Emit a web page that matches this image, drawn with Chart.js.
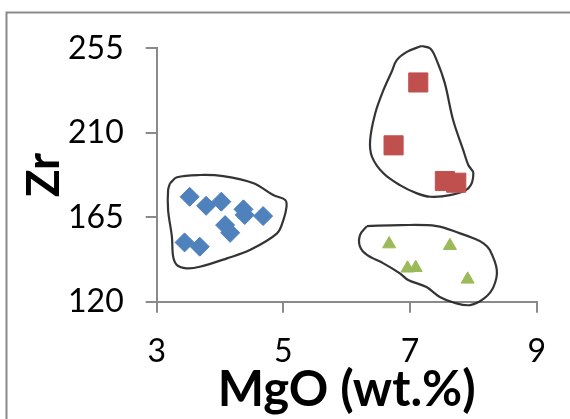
<!DOCTYPE html>
<html>
<head>
<meta charset="utf-8">
<script src="https://cdn.jsdelivr.net/npm/chart.js@4"></script>
<style>
html,body{margin:0;padding:0;background:#fff;}
#wrap{width:570px;height:419px;position:relative;}
</style>
</head>
<body>
<div id="wrap"><canvas id="c" width="570" height="419"></canvas></div>
<script>
// ---- data (MgO wt.%, Zr) ----
const xTicks = [3, 5, 7, 9];
const yTicks = [120, 165, 210, 255];

const blueMgO = [3.52, 3.78, 4.02, 4.37, 4.39, 4.68, 4.08, 4.16, 3.44, 3.68];
const blueZr  = [175.9, 171.1, 173.3, 169.2, 166.2, 165.6, 160.8, 156.7, 151.6, 149.3];

const redMgO = [7.13, 6.74, 7.55, 7.73];
const redZr  = [236.8, 203.3, 184.3, 183.4];

const greenMgO = [6.67, 7.63, 6.96, 7.09, 7.91];
const greenZr  = [150.7, 149.8, 137.8, 138.1, 131.9];

// hand-drawn enclosing outlines (value coordinates)
const blueOutlineMgO = [3.21, 3.32, 3.68, 4.05, 4.53, 4.84, 5.03, 5.05, 5.00, 4.90, 4.47, 4.11, 3.68, 3.47, 3.32, 3.26, 3.24, 3.18, 3.18, 3.21];
const blueOutlineZr  = [183.1, 186.3, 187.5, 186.9, 183.1, 176.8, 174.2, 170.6, 163.5, 156.4, 147.5, 143.1, 138.6, 137.8, 139.5, 144.0, 154.6, 168.8, 179.5, 183.1];

const redOutlineMgO = [7.18, 6.95, 6.79, 6.71, 6.58, 6.45, 6.37, 6.40, 6.58, 6.84, 7.11, 7.32, 7.63, 7.92, 8.00, 7.92, 7.84, 7.68, 7.55, 7.42, 7.32, 7.18];
const redOutlineZr  = [256.2, 253.1, 248.7, 242.5, 232.7, 220.3, 206.1, 197.2, 188.4, 182.1, 177.7, 175.9, 176.8, 180.4, 188.4, 192.8, 200.8, 216.8, 236.3, 248.7, 254.9, 256.2];

const greenOutlineMgO = [6.32, 6.84, 7.42, 7.79, 8.00, 8.16, 8.26, 8.37, 8.32, 8.18, 7.95, 7.71, 7.47, 7.26, 6.97, 6.84, 6.58, 6.32, 6.21, 6.21, 6.32];
const greenOutlineZr  = [160.3, 160.8, 160.3, 156.4, 153.8, 151.1, 147.5, 136.9, 128.0, 122.0, 118.2, 119.3, 122.5, 127.8, 131.6, 135.1, 140.4, 144.9, 149.3, 155.5, 160.3];

// ---- helpers ----
const pts = (xs, ys) => xs.map((x, i) => ({x: x, y: ys[i]}));
const AXIS = '#8a8a8a';
const FONT = 'Lato, "Open Sans", "Liberation Sans", sans-serif';

function outline(xs, ys) {
  return {
    data: pts(xs, ys),
    showLine: true,
    pointRadius: 0,
    borderColor: 'rgba(30,30,30,0.9)',
    borderWidth: 2.2,
    backgroundColor: 'transparent',
    fill: false,
    tension: 0.35,
    clip: false,
    order: 2
  };
}

const frame = {
  id: 'frame',
  beforeDraw(chart) {
    const ctx = chart.ctx;
    ctx.save();
    ctx.fillStyle = '#fff';
    ctx.fillRect(0, 0, chart.width, chart.height);
    ctx.strokeStyle = AXIS;
    ctx.lineWidth = 2;
    ctx.strokeRect(6.5, 12.5, 700, 500);
    ctx.restore();
  }
};

new Chart(document.getElementById('c'), {
  type: 'scatter',
  data: {
    datasets: [
      outline(blueOutlineMgO, blueOutlineZr),
      outline(redOutlineMgO, redOutlineZr),
      outline(greenOutlineMgO, greenOutlineZr),
      {
        data: pts(blueMgO, blueZr),
        pointStyle: 'rectRot', pointRadius: 9.5,
        backgroundColor: '#4F81BD', borderColor: '#4F81BD', borderWidth: 1, order: 1
      },
      {
        data: pts(redMgO, redZr),
        pointStyle: 'rect', pointRadius: 13.5,
        backgroundColor: '#C0504D', borderColor: '#C0504D', borderWidth: 1, order: 1
      },
      {
        data: pts(greenMgO, greenZr),
        pointStyle: 'triangle', pointRadius: 7.5,
        backgroundColor: '#9BBB59', borderColor: '#9BBB59', borderWidth: 1, order: 1
      }
    ]
  },
  options: {
    responsive: false,
    animation: false,
    devicePixelRatio: 1,
    layout: { padding: { top: 48.3, right: 33.3, left: 0, bottom: 0 } },
    plugins: { legend: { display: false }, tooltip: { enabled: false } },
    scales: {
      x: {
        type: 'linear', min: 3, max: 9,
        afterFit(s) { s.height = 117.3; },
        afterBuildTicks(s) { s.ticks = xTicks.map(v => ({value: v})); },
        grid: { display: true, drawOnChartArea: false, drawTicks: true, tickLength: 11, color: AXIS, lineWidth: 2 },
        border: { display: true, color: AXIS, width: 2 },
        ticks: { color: '#000', padding: 20, font: { family: FONT, size: 32 }, maxRotation: 0 },
        title: { display: true, text: 'MgO (wt.%)', color: '#000',
                 font: { family: FONT, size: 49, weight: 'bold', lineHeight: 1 },
                 padding: { top: 0, bottom: 4 } }
      },
      y: {
        type: 'linear', min: 120, max: 255,
        afterFit(s) { s.width = 156.7; },
        afterBuildTicks(s) { s.ticks = yTicks.map(v => ({value: v})); },
        grid: { display: true, drawOnChartArea: false, drawTicks: true, tickLength: 11, color: AXIS, lineWidth: 2 },
        border: { display: true, color: AXIS, width: 2 },
        ticks: { color: '#000', padding: 22, font: { family: FONT, size: 32 } },
        title: { display: true, text: 'Zr', color: '#000',
                 font: { family: FONT, size: 46, weight: 'bold', lineHeight: 1 },
                 padding: { top: 21, bottom: 0 } }
      }
    }
  },
  plugins: [frame]
});
</script>
</body>
</html>
